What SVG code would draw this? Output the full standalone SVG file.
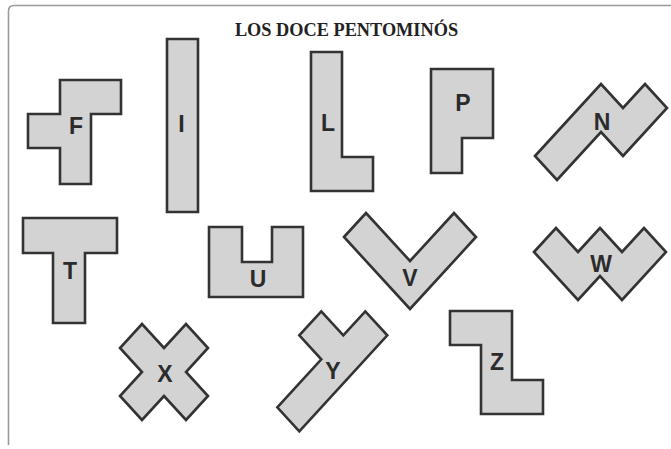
<svg xmlns="http://www.w3.org/2000/svg" width="671" height="449" viewBox="0 0 671 449">
<style>
.p{fill:#d3d3d4;stroke:#333;stroke-width:2.6;stroke-linejoin:miter}
.l{font-family:"Liberation Sans",Arial,sans-serif;font-weight:bold;font-size:23px;fill:#2b2b2b;text-anchor:middle}
.t{font-family:"Liberation Serif","Times New Roman",serif;font-weight:bold;font-size:18.3px;fill:#222;text-anchor:middle}
</style>
<rect width="671" height="449" fill="#fff"/>
<path d="M8.5,445 L8.5,11 Q8.5,5.5 14,5.5 L671,5.5" fill="none" stroke="#9a9a9a" stroke-width="1.6"/>
<text class="t" x="346.5" y="36">LOS DOCE PENTOMINÓS</text>
<g id="F"><polygon class="p" points="60,80 121,80 121,114 91,114 91,184 60,184 60,148 28,148 28,114 60,114"/><text class="l" x="76" y="134">F</text></g>
<g id="I"><polygon class="p" points="167,39 198,39 198,212 167,212"/><text class="l" x="181.5" y="132">I</text></g>
<g id="L"><polygon class="p" points="311,52 342,52 342,157 373,157 373,191 311,191"/><text class="l" x="328" y="131">L</text></g>
<g id="P"><polygon class="p" points="431,69 493,69 493,138 462,138 462,173 431,173"/><text class="l" x="463" y="111">P</text></g>
<g id="N"><polygon class="p" points="535,156 601,84 623,108 645,84 667,108 623,156 601,132 557,180"/><text class="l" x="602" y="130">N</text></g>
<g id="T"><polygon class="p" points="23,218 117,218 117,253 85,253 85,323 53,323 53,253 23,253"/><text class="l" x="70" y="279">T</text></g>
<g id="U"><polygon class="p" points="209,227 242,227 242,262 272,262 272,227 303,227 303,297 209,297"/><text class="l" x="258" y="287">U</text></g>
<g id="V"><polygon class="p" points="344,237 366,213 410,261 454,213 476,237 410,309"/><text class="l" x="410" y="286">V</text></g>
<g id="W"><polygon class="p" points="534,252 556,228 578,252 600,228 622,252 644,228 666,252 622,300 600,276 578,300"/><text class="l" x="601" y="272">W</text></g>
<g id="X"><polygon class="p" points="142,324 164,348 186,324 208,348 186,372 208,396 186,420 164,396 142,420 120,396 142,372 120,348"/><text class="l" x="165" y="382">X</text></g>
<g id="Y"><polygon class="p" points="277.3,407.3 321.3,359.3 299.3,335.3 321.3,311.3 343.3,335.3 365.3,311.3 387.3,335.3 299.3,431.3"/><text class="l" x="333" y="379">Y</text></g>
<g id="Z"><polygon class="p" points="450,311 512,311 512,380 543,380 543,414 481,414 481,345 450,345"/><text class="l" x="497" y="370">Z</text></g>
<g id="connectors"></g>
</svg>
